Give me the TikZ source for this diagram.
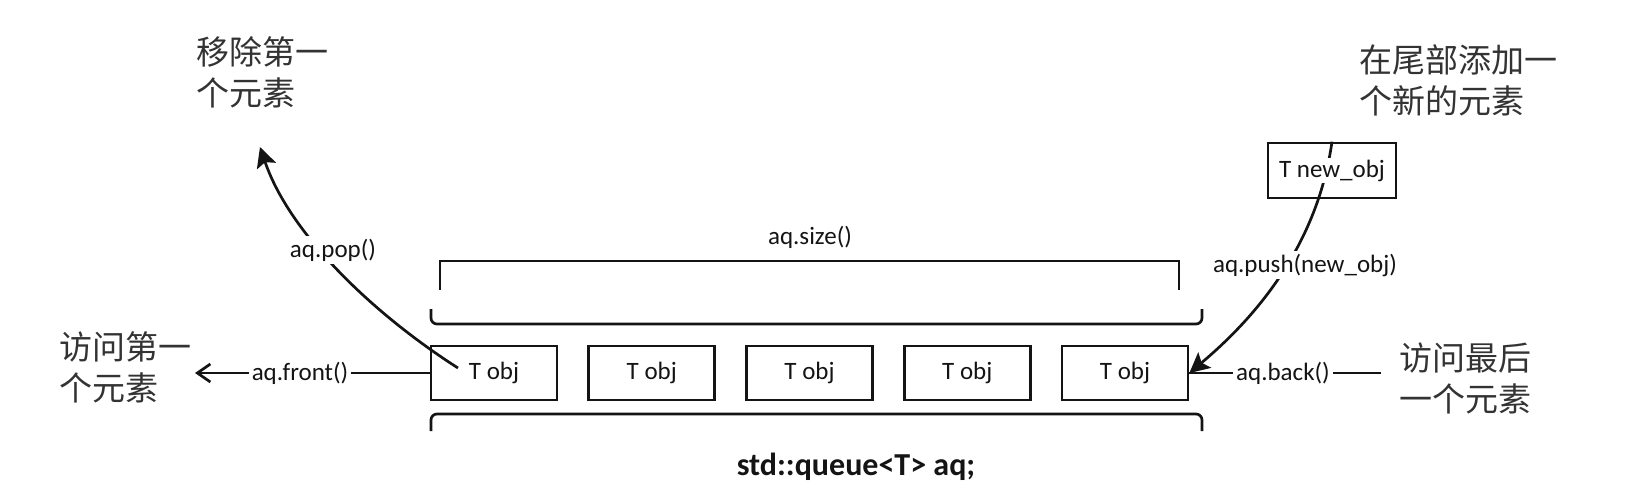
\documentclass[tikz,border=0pt]{standalone}
\usepackage{fontspec}
\setmainfont{Carlito}
\newfontfamily\cjk{Noto Sans CJK SC}
\usetikzlibrary{arrows.meta}
\begin{document}
\begin{tikzpicture}[x=0.5pt,y=-0.5pt,
  line width=1.35pt,
  objbox/.style={draw=black!92, line width=1.35pt, minimum width=63pt, minimum height=27pt, inner sep=0pt, font=\fontsize{12.5}{15}\selectfont, text=black!92},
  lbl/.style={font=\fontsize{12.5}{15}\selectfont, text=black!92, inner sep=1.5pt},
  wlbl/.style={lbl, fill=white},
  cjktxt/.style={font=\cjk\fontsize{16.5}{20.5}\selectfont, text=black!80, align=left, inner sep=0pt, anchor=west},
  bracket/.style={draw=black!92, line width=1.35pt},
  bigtip/.style={-{Stealth[length=10pt,width=10pt,inset=2pt]}},
  opentip/.style={-{Straight Barb[length=6.5pt,width=9pt]}},
]
\useasboundingbox (0,0) rectangle (1650,494);

% queue elements
\foreach \i/\x in {1/494,2/651.75,3/809.5,4/967.25,5/1125}
  \node[objbox] (b\i) at (\x,373) {T obj};

% brackets
\draw[bracket] (440,290) -- (440,261) -- (1179,261) -- (1179,290);
\draw[bracket, rounded corners=3pt] (431,309) -- (431,324) -- (1202,324) -- (1202,309);
\draw[bracket, rounded corners=3pt] (431,431) -- (431,414) -- (1202,414) -- (1202,431);

\node[lbl] (size) at (810,237) {aq.size()};
\node[font=\bfseries\fontsize{16}{19}\selectfont, text=black!92] (qname) at (856,467) {std::queue<T> aq;};

% pop
\coordinate (popstart) at (458,368);
\coordinate (popend) at (260,147);
\draw[bigtip, draw=black!92] (popstart) .. controls (375,315) and (290,235) .. (popend);
\node[wlbl] (pop) at (333,250) {aq.pop()};

% front
\coordinate (frontend) at (195,373);
\draw[opentip, draw=black!92] (b1.west) -- (frontend);
\node[wlbl] (front) at (300,373) {aq.front()};

% back
\coordinate (backend) at (1381,373);
\draw[draw=black!92] (b5.east) -- (backend);
\node[wlbl] (back) at (1283,373) {aq.back()};

% push
\node[objbox, minimum width=64pt, minimum height=27.5pt] (newobj) at (1332,170.5) {};
\draw[bigtip, draw=black!92] (newobj.north) .. controls (1318,240) and (1262,312) .. (b5.east);
\node[wlbl, inner sep=1pt] (newobjtxt) at (newobj.center) {T new\_obj};
\node[wlbl] (push) at (1305,265) {aq.push(new\_obj)};

% chinese captions
\node[cjktxt] (rm) at (195,72) {移除第一\\个元素};
\node[cjktxt] (add) at (1358,80.5) {在尾部添加一\\个新的元素};
\node[cjktxt] (fr) at (58,367) {访问第一\\个元素};
\node[cjktxt] (bk) at (1398,378) {访问最后\\一个元素};
\end{tikzpicture}
\end{document}
